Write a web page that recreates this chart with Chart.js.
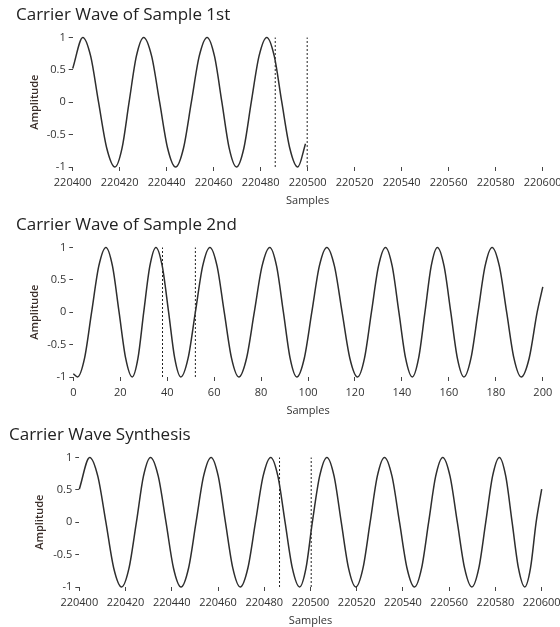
<!DOCTYPE html>
<html>
<head>
<meta charset="utf-8">
<script src="https://cdn.jsdelivr.net/npm/chart.js@4.4.1/dist/chart.umd.min.js"></script>
<style>
  html, body { margin: 0; padding: 0; background: #fff; overflow: hidden; }
  .panel { position: absolute; left: 0; width: 560px; height: 210px; }
</style>
</head>
<body>
<div class="panel" style="top:0"><canvas id="chart1"></canvas></div>
<div class="panel" style="top:210px"><canvas id="chart2"></canvas></div>
<div class="panel" style="top:420px"><canvas id="chart3"></canvas></div>
<script>
// titles
const titles = ['Carrier Wave of Sample 1st', 'Carrier Wave of Sample 2nd', 'Carrier Wave Synthesis'];

// tick labels
const xTicksBig = [220400, 220420, 220440, 220460, 220480, 220500, 220520, 220540, 220560, 220580, 220600];
const xTicksSmall = [0, 20, 40, 60, 80, 100, 120, 140, 160, 180, 200];
const yTicks = [-1, -0.5, 0, 0.5, 1];

// sample 1st (peaks, troughs, crossings, shoulders)
const s1x = [220400, 220404.3, 220407.65, 220411, 220414.5, 220418, 220421, 220424, 220427.1, 220430.2,
  220433.6, 220437, 220440.4, 220443.8, 220447.15, 220450.5, 220453.85, 220457.2, 220460.35, 220463.5,
  220466.6, 220469.7, 220472.85, 220476, 220479.3, 220482.6, 220485.8, 220489, 220492.4, 220495.8, 220499.1];
const s1y = [0.52, 1, 0.71, 0, -0.71, -1, -0.71, 0, 0.71, 1,
  0.71, 0, -0.71, -1, -0.71, 0, 0.71, 1, 0.71, 0,
  -0.71, -1, -0.71, 0, 0.71, 1, 0.71, 0, -0.71, -1, -0.64];

// sample 2nd
const s2x = [0, 1.8, 4.8, 7.8, 10.85, 13.9, 16.7, 19.5, 22.3, 25.1,
  27.55, 30, 32.6, 35.2, 37.9, 40.6, 43.2, 45.8, 48.9, 52,
  55.1, 58.2, 61.25, 64.3, 67.4, 70.5, 73.8, 77.1, 80.4, 83.7,
  86.6, 89.5, 92.35, 95.2, 98.4, 101.6, 104.8, 108, 111.25, 114.5,
  117.8, 121.1, 124.05, 127, 130, 133, 135.85, 138.7, 141.55, 144.4,
  147.1, 149.8, 152.45, 155.1, 157.95, 160.8, 163.6, 166.4, 169.4, 172.4,
  175.4, 178.4, 181.5, 184.6, 187.7, 190.8, 194.2, 197.6, 200];
const s2y = [-0.95, -1, -0.71, 0, 0.71, 1, 0.71, 0, -0.71, -1,
  -0.71, 0, 0.71, 1, 0.71, 0, -0.71, -1, -0.71, 0,
  0.71, 1, 0.71, 0, -0.71, -1, -0.71, 0, 0.71, 1,
  0.71, 0, -0.71, -1, -0.71, 0, 0.71, 1, 0.71, 0,
  -0.71, -1, -0.71, 0, 0.71, 1, 0.71, 0, -0.71, -1,
  -0.71, 0, 0.71, 1, 0.71, 0, -0.71, -1, -0.71, 0,
  0.71, 1, 0.71, 0, -0.71, -1, -0.71, 0, 0.39];

// synthesis
const s3x = [220400, 220404.5, 220408, 220411.5, 220414.9, 220418.3, 220421.5, 220424.7, 220427.75, 220430.8,
  220434.15, 220437.5, 220440.75, 220444, 220447.25, 220450.5, 220453.75, 220457, 220460.1, 220463.2,
  220466.4, 220469.6, 220472.9, 220476.2, 220479.5, 220482.8, 220485.9, 220489, 220492.15, 220495.3,
  220498.05, 220500.8, 220503.95, 220507.1, 220510.2, 220513.3, 220516.45, 220519.6, 220522.7, 220525.8,
  220528.9, 220532, 220535.25, 220538.5, 220541.75, 220545, 220548.05, 220551.1, 220554.15, 220557.2,
  220560.35, 220563.5, 220566.65, 220569.8, 220572.8, 220575.8, 220578.75, 220581.7, 220584.45, 220587.2,
  220589.95, 220592.7, 220595.15, 220597.6, 220600];
const s3y = [0.51, 1, 0.71, 0, -0.71, -1, -0.71, 0, 0.71, 1,
  0.71, 0, -0.71, -1, -0.71, 0, 0.71, 1, 0.71, 0,
  -0.71, -1, -0.71, 0, 0.71, 1, 0.71, 0, -0.71, -1,
  -0.71, 0, 0.71, 1, 0.71, 0, -0.71, -1, -0.71, 0,
  0.71, 1, 0.71, 0, -0.71, -1, -0.71, 0, 0.71, 1,
  0.71, 0, -0.71, -1, -0.71, 0, 0.71, 1, 0.71, 0,
  -0.71, -1, -0.71, 0, 0.51];

// dotted cut markers
const cuts1 = [220486.2, 220499.8];
const cuts2 = [38, 52];
const cuts3 = [220486.6, 220500.3];

const ink = '#333';
const tickFont = { family: 'Open Sans', size: 11 };

function pts(xs, ys) {
    return xs.map((x, i) => ({ x: x, y: ys[i] }));
}

function makeChart(id, title, xs, ys, cuts, xTicks, geo) {
    const datasets = [{
        data: pts(xs, ys),
        borderColor: '#2e2e2e',
        borderWidth: 1.5,
        pointRadius: 0,
        cubicInterpolationMode: 'monotone',
        clip: false
    }];
    cuts.forEach(c => {
        datasets.push({
            data: [{ x: c, y: -1 }, { x: c, y: 1 }],
            borderColor: '#222',
            borderWidth: 1,
            borderDash: [2, 2],
            pointRadius: 0,
            clip: false
        });
    });

    return new Chart(document.getElementById(id), {
        type: 'line',
        data: { datasets: datasets },
        options: {
            responsive: true,
            maintainAspectRatio: false,
            animation: false,
            layout: { padding: { left: geo.left, right: geo.right, top: 0, bottom: 0 } },
            plugins: {
                legend: { display: false },
                tooltip: { enabled: false },
                title: {
                    display: true,
                    text: title,
                    align: 'start',
                    color: '#222',
                    font: { family: 'Open Sans', size: 17, weight: 'normal', lineHeight: 1.2 },
                    padding: { top: 4.8, bottom: 12.2 }
                }
            },
            scales: {
                x: {
                    type: 'linear',
                    min: xTicks[0],
                    max: xTicks[xTicks.length - 1],
                    afterBuildTicks: s => { s.ticks = xTicks.map(v => ({ value: v })); },
                    afterFit: s => { s.height = 43; s.paddingLeft = 0; s.paddingRight = 0; },
                    border: { display: false },
                    grid: { drawOnChartArea: false, drawTicks: true, tickLength: 4, color: '#444' },
                    ticks: { color: ink, font: tickFont, padding: 5, maxRotation: 0, autoSkip: false,
                        callback: v => String(v) },
                    title: { display: true, text: 'Samples', color: ink,
                        font: { family: 'Open Sans', size: 11, lineHeight: 1.2 },
                        padding: { top: 0, bottom: 3 } }
                },
                y: {
                    min: -1,
                    max: 1,
                    afterBuildTicks: s => { s.ticks = yTicks.map(v => ({ value: v })); },
                    afterFit: s => { s.width = geo.yWidth; s.paddingTop = 0; s.paddingBottom = 0; },
                    border: { display: false },
                    grid: { drawOnChartArea: false, drawTicks: true, tickLength: 4, color: '#444' },
                    ticks: { color: ink, font: tickFont, padding: 3, callback: v => String(v) },
                    title: { display: true, text: 'Amplitude', color: '#3a2e2a',
                        font: { family: 'Open Sans', size: 11, weight: '600', lineHeight: 1.2 },
                        padding: { top: geo.yTitle, bottom: 0 } }
                }
            }
        }
    });
}

makeChart('chart1', titles[0], s1x, s1y, cuts1, xTicksBig, { left: 16, right: 17.4, yWidth: 56.7, yTitle: 12.4 });
makeChart('chart2', titles[1], s2x, s2y, cuts2, xTicksSmall, { left: 16, right: 17.2, yWidth: 57.3, yTitle: 12.4 });
makeChart('chart3', titles[2], s3x, s3y, cuts3, xTicksBig, { left: 9, right: 18.3, yWidth: 70.3, yTitle: 24.4 });
</script>
</body>
</html>
